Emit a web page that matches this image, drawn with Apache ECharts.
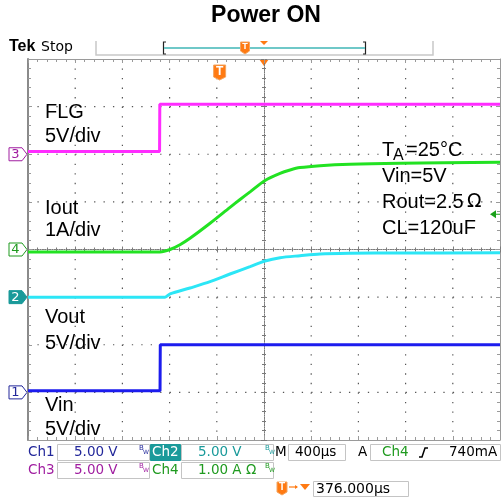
<!DOCTYPE html>
<html>
<head>
<meta charset="utf-8">
<script src="https://cdn.jsdelivr.net/npm/echarts@6.0.0/dist/echarts.min.js"></script>
<style>
  html, body { margin: 0; padding: 0; background: #fff; }
  #scope { width: 502px; height: 501px; }
</style>
</head>
<body>
<div id="scope"></div>
<script>
// horizontal setup: 400us/div, trigger sits 376us left of screen centre
const timePerDiv = 400;
const trigToCenter = 376;
const trigLevelAmps = 0.74;

// channel setup (ground marker in divisions from centre, units per division)
const ch1 = { offset: -3, scale: 5, color: "#1c1cee", label: "#22279a" };
const ch2 = { offset: -1, scale: 5, color: "#2ce6f6", label: "#1a9a9a" };
const ch3 = { offset: 2, scale: 5, color: "#ff2cff", label: "#a01ea0" };
const ch4 = { offset: 0, scale: 1, color: "#22e222", label: "#1f9a1f" };

// graticule divisions
const xDivs = [1, 2, 3, 4, 6, 7, 8, 9];
const yDivs = [-3, -2, -1, 1, 2, 3];

// waveforms, time in us from trigger
const flgTime = [-1624, -509, -507, 2376];
const flgVolts = [0.3, 0.3, 5.25, 5.25];

const vinTime = [-1624, -505, -503, 2376];
const vinVolts = [0.17, 0.17, 4.99, 4.99];

const ioutTime = [-1624, -505, -420, -336, -251, -81, 88, 173, 258, 385, 512, 597, 681, 851, 1105, 1529, 2376];
const ioutAmps = [-0.05, -0.05, 0.0, 0.1, 0.235, 0.55, 0.885, 1.05, 1.21, 1.45, 1.6, 1.67, 1.72, 1.76, 1.79, 1.81, 1.83];

const voutTime = [-1624, -463, -420, -251, -81, 88, 258, 385, 512, 681, 851, 1105, 1529, 2376];
const voutVolts = [0.0, 0.0, 0.34, 0.96, 1.62, 2.43, 3.2, 3.79, 4.14, 4.35, 4.53, 4.6, 4.63, 4.66];

const labelFont = '"Liberation Sans", Arial, sans-serif';
const readFont = '"DejaVu Sans", Verdana, sans-serif';
const orange = "#ff7a12";

function timeToDiv(t) {
  return 5 + (t - trigToCenter) / timePerDiv;
}

function traceData(times, values, ch) {
  return times.map((t, i) => [timeToDiv(t), ch.offset + values[i] / ch.scale]);
}

function trace(name, data, ch, smooth) {
  return {
    name,
    type: "line",
    xAxisIndex: 0,
    yAxisIndex: 0,
    data,
    symbol: "none",
    smooth: smooth ? 0.3 : false,
    lineStyle: { color: ch.color, width: 3 },
    silent: true,
    z: 5,
  };
}

const plotRect = { left: 28, right: 2, top: 59, bottom: 61 };
const borderColor = "#9a9a9a";

function borderAxis(gridIndex, position, min, max) {
  return {
    type: "value",
    gridIndex,
    position,
    min,
    max,
    interval: 1,
    axisLine: { show: true, onZero: false, lineStyle: { color: position === "left" ? "#8a8a8a" : borderColor, width: position === "left" ? 2 : 1 } },
    axisTick: { show: true, inside: true, length: 4, lineStyle: { color: borderColor } },
    minorTick: { show: true, splitNumber: 5, length: 3, lineStyle: { color: borderColor } },
    axisLabel: { show: false },
    splitLine: { show: false },
  };
}

function centerAxis(gridIndex, min, max, inside) {
  return {
    type: "value",
    gridIndex,
    min,
    max,
    interval: 1,
    axisLine: { show: true, onZero: true, lineStyle: { color: "#7a7a7a", width: 1, type: [1, 1.4] } },
    axisTick: { show: true, inside, length: 3, lineStyle: { color: "#7a7a7a" } },
    minorTick: { show: true, splitNumber: 5, length: 2, lineStyle: { color: "#7a7a7a" } },
    axisLabel: { show: false },
    splitLine: { show: false },
  };
}

const chart = echarts.init(document.getElementById("scope"));

chart.setOption({
  animation: false,
  grid: [Object.assign({}, plotRect), Object.assign({}, plotRect), Object.assign({}, plotRect)],
  xAxis: [
    borderAxis(0, "bottom", 0, 10),
    borderAxis(0, "top", 0, 10),
    centerAxis(1, -5, 5, true),
    centerAxis(2, -5, 5, false),
  ],
  yAxis: [
    borderAxis(0, "left", -4, 4),
    borderAxis(0, "right", -4, 4),
    centerAxis(1, -4, 4, true),
    centerAxis(2, -4, 4, false),
  ],
  series: [
    trace("Vin", traceData(vinTime, vinVolts, ch1), ch1, false),
    trace("Vout", traceData(voutTime, voutVolts, ch2), ch2, true),
    trace("Iout", traceData(ioutTime, ioutAmps, ch4), ch4, true),
    trace("FLG", traceData(flgTime, flgVolts, ch3), ch3, false),
  ],
});

function toPx(x, y) {
  return chart.convertToPixel({ seriesIndex: 0 }, [x, y]);
}

function text(str, x, y, color, font, align) {
  return {
    type: "text",
    silent: true,
    z: 10,
    style: {
      text: str, x, y, fill: color, font,
      textAlign: align || "left", align: align || "left",
      textVerticalAlign: "middle", verticalAlign: "middle",
    },
  };
}

function rect(x1, y1, x2, y2, fill, stroke) {
  return {
    type: "rect",
    silent: true,
    shape: { x: x1, y: y1, width: x2 - x1, height: y2 - y1 },
    style: { fill: fill || "none", stroke: stroke || "none", lineWidth: 1 },
  };
}

function dotLine(x1, y1, x2, y2, gap) {
  return {
    type: "line",
    silent: true,
    z: -1,
    shape: { x1, y1, x2, y2 },
    style: { stroke: "#555", lineWidth: 1.2, lineDash: [1.3, gap - 1.3] },
  };
}

function channelMarker(num, ch, filled) {
  const [px, py] = toPx(0, ch.offset);
  return {
    type: "group",
    x: px,
    y: py,
    children: [
      {
        type: "polygon",
        shape: { points: [[-19, -6.5], [-6, -6.5], [-1, 0], [-6, 6.5], [-19, 6.5]] },
        style: { fill: filled ? ch.label : "#fff", stroke: ch.label, lineWidth: 1 },
      },
      text(num, -12.5, 0.5, filled ? "#fff" : ch.label, "13px " + readFont, "center"),
    ],
  };
}

function tBadge(cx, top, w, h) {
  return {
    type: "group",
    children: [
      {
        type: "polygon",
        shape: { points: [[cx - w / 2, top], [cx + w / 2, top], [cx + w / 2, top + h - 3], [cx, top + h], [cx - w / 2, top + h - 3]] },
        style: { fill: orange, stroke: "#f3a560", lineWidth: 1 },
      },
      text("T", cx, top + h / 2 - 1, "#fff", "bold " + (h - 3) + "px " + labelFont, "center"),
    ],
  };
}

function bw(x, y, color) {
  return [
    text("B", x, y - 2, color, "7px " + readFont),
    text("W", x + 4, y + 2, color, "6px " + readFont),
  ];
}

const [trigX] = toPx(timeToDiv(0), 0);
const [centerX, plotTop] = toPx(5, 4);
const [rightX, trigY] = toPx(10, ch4.offset + trigLevelAmps / ch4.scale);
const [leftX, bottomY] = toPx(0, -4);
const xStep = (rightX - leftX) / 50;
const yStep = (bottomY - plotTop) / 40;

// dotted graticule, dots every 1/5 division
const graticule = [
  ...xDivs.map((d) => {
    const [px] = toPx(d, 0);
    return dotLine(px, plotTop, px, bottomY, yStep);
  }),
  ...yDivs.map((d) => {
    const [, py] = toPx(0, d);
    return dotLine(leftX, py, rightX, py, xStep);
  }),
];

const big = "20px " + labelFont;
const rf = "13.5px " + readFont;

const graphic = [
  ...graticule,

  // title and header
  text("Power ON", 266, 16, "#000", "bold 23px " + labelFont, "center"),
  text("Tek", 9, 47, "#000", "bold 16px " + labelFont),
  text("Stop", 41, 47, "#000", "14px " + readFont),
  { type: "polyline", silent: true, shape: { points: [[96, 41], [96, 55], [433, 55], [433, 41]] }, style: { stroke: "#c8c8c8", lineWidth: 1.5, fill: "none" } },
  { type: "polyline", silent: true, shape: { points: [[166, 42], [163.5, 42], [163.5, 54], [166, 54]] }, style: { stroke: "#222", lineWidth: 1.2, fill: "none" } },
  { type: "polyline", silent: true, shape: { points: [[363, 42], [365.5, 42], [365.5, 54], [363, 54]] }, style: { stroke: "#222", lineWidth: 1.2, fill: "none" } },
  { type: "line", silent: true, shape: { x1: 164, y1: 48, x2: 365, y2: 48 }, style: { stroke: "#6fc8c8", lineWidth: 2 } },
  tBadge(245, 42, 9, 12),
  { type: "polygon", silent: true, shape: { points: [[260, 41], [268, 41], [264, 45]] }, style: { fill: orange } },

  // trigger and expansion markers on the graticule
  tBadge(trigX, 65, 12, 15),
  { type: "polygon", silent: true, shape: { points: [[centerX - 5, plotTop], [centerX + 5, plotTop], [centerX, plotTop + 7]] }, style: { fill: orange } },
  { type: "polygon", silent: true, shape: { points: [[rightX - 10, trigY], [rightX - 4, trigY - 4], [rightX - 4, trigY + 4]] }, style: { fill: "#1aa01a" } },
  { type: "line", silent: true, shape: { x1: rightX - 5, y1: trigY, x2: rightX, y2: trigY }, style: { stroke: "#1aa01a", lineWidth: 1 } },

  // channel ground markers
  channelMarker("3", ch3, false),
  channelMarker("4", ch4, false),
  channelMarker("2", ch2, true),
  channelMarker("1", ch1, false),

  // trace annotations
  text("FLG", 45, 112, "#000", big),
  text("5V/div", 45, 136, "#000", big),
  text("Iout", 45, 208, "#000", big),
  text("1A/div", 45, 230, "#000", big),
  text("Vout", 45, 317, "#000", big),
  text("5V/div", 45, 343, "#000", big),
  text("Vin", 45, 405, "#000", big),
  text("5V/div", 45, 429, "#000", big),
  text("T", 382, 150, "#000", big),
  text("A", 393, 156, "#000", "16px " + labelFont),
  text("=25°C", 406, 150, "#000", big),
  text("Vin=5V", 382, 176.5, "#000", big),
  text("Rout=2.5", 382, 202, "#000", big),
  text("Ω", 467, 202, "#000", "19px " + readFont),
  text("CL=120uF", 382, 228, "#000", big),

  // readout, row 1
  text("Ch1", 28, 452.5, ch1.label, rf),
  rect(57.5, 444.5, 149.5, 460.5, null, "#c4c4c4"),
  text("5.00 V", 74, 452.5, ch1.label, rf),
  ...bw(139, 450, ch1.label),
  rect(150.5, 444.5, 180.5, 460.5, ch2.label, ch2.label),
  text("Ch2", 152, 452.5, "#fff", rf),
  rect(181.5, 444.5, 273.5, 460.5, null, "#c4c4c4"),
  text("5.00 V", 198, 452.5, ch2.label, rf),
  ...bw(265, 450, ch2.label),
  text("M", 275, 452.5, "#000", rf),
  rect(288.5, 444.5, 345.5, 460.5, null, "#c4c4c4"),
  text("400µs", 295, 452.5, "#000", rf),
  text("A", 358, 452.5, "#000", rf),
  rect(370.5, 444.5, 500.5, 460.5, null, "#c4c4c4"),
  text("Ch4", 382, 452.5, ch4.label, rf),
  { type: "polyline", silent: true, shape: { points: [[419, 457], [422, 457], [425, 448], [428, 448]] }, style: { stroke: "#000", lineWidth: 1.5, fill: "none" } },
  text("740mA", 449, 452.5, "#000", rf),

  // readout, row 2
  text("Ch3", 28, 470.5, ch3.label, rf),
  rect(57.5, 462.5, 149.5, 478.5, null, "#c4c4c4"),
  text("5.00 V", 74, 470.5, ch3.label, rf),
  ...bw(139, 468, ch3.label),
  text("Ch4", 152, 470.5, ch4.label, rf),
  rect(181.5, 462.5, 273.5, 478.5, null, "#c4c4c4"),
  text("1.00 A Ω", 198, 470.5, ch4.label, rf),
  ...bw(265, 468, ch4.label),

  // readout, row 3
  tBadge(282, 482, 10, 13),
  { type: "line", silent: true, shape: { x1: 289, y1: 487, x2: 297, y2: 487 }, style: { stroke: orange, lineWidth: 1.2 } },
  { type: "polygon", silent: true, shape: { points: [[295, 485], [298, 487], [295, 489]] }, style: { fill: orange } },
  { type: "polygon", silent: true, shape: { points: [[300, 484], [310, 484], [305, 490]] }, style: { fill: orange } },
  rect(313.5, 481.5, 408.5, 496.5, null, "#c4c4c4"),
  text("376.000µs", 316, 489, "#000", "14px " + readFont),
];

chart.setOption({ graphic });
</script>
</body>
</html>
